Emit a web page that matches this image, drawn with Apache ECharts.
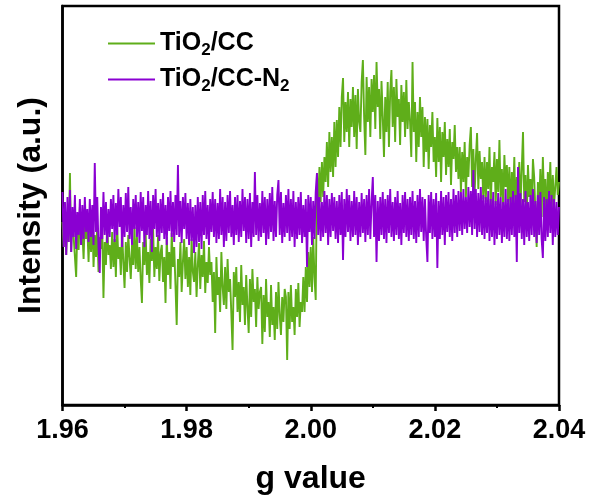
<!DOCTYPE html>
<html>
<head>
<meta charset="utf-8">
<script src="https://cdn.jsdelivr.net/npm/echarts@6/dist/echarts.min.js"></script>
<style>
  html, body { margin: 0; padding: 0; background: #fff; }
  #chart { width: 592px; height: 504px; }
</style>
</head>
<body>
<div id="chart"></div>
<script>
// EPR spectra sampled on a uniform g grid
const gStart = 1.96;
const gStep = 0.0002;
const xTickLabels = ['1.96', '1.98', '2.00', '2.02', '2.04'];
const seriesNames = ['TiO2/CC', 'TiO2/CC-N2'];

// TiO2/CC intensity (a.u.)
const intensityCC = [
  -5, -30, 8, -38, -2, -25, 44, -35, 5, -20, -40, -60, -8, -33, 10, -28, -15, -42, 0, -22,
  -10, -45, -5, -35, 2, -50, -18, -40, -8, -55, -20, -32, -12, -81, -25, -48, -6, -38, -28, -52,
  -15, -50, -22, -60, -8, -42, -30, -58, -12, -45, -71, -25, -55, -18, -40, -62, -28, -48, -10, -52,
  -20, -55, -30, -62, -86, -25, -48, -15, -58, -35, -66, -22, -44, -12, -60, -30, -52, -18, -64, -36,
  -28, -65, -40, -86, -20, -58, -35, -72, -16, -50, -30, -68, -108, -42, -60, -25, -75, -45, -22, -62,
  -30, -70, -40, -78, -22, -55, -65, -35, -80, -48, -26, -72, -38, -60, -24, -76, -45, -66, -30, -58,
  -45, -85, -55, -116, -40, -78, -60, -95, -35, -70, -88, -50, -92, -42, -75, -62, -96, -133, -55, -80,
  -50, -95, -65, -105, -48, -88, -70, -108, -58, -90, -116, -62, -100, -52, -85, -72, -110, -60, -92, -75,
  -70, -127, -78, -115, -62, -100, -85, -120, -68, -108, -90, -123, -75, -112, -65, -98, -118, -80, -105, -72,
  -80, -143, -75, -112, -68, -105, -90, -118, -72, -100, -66, -110, -85, -95, -60, -95, -50, -85, -35, -70,
  -30, -75, -20, -60, -83, 44, 10, 50, 15, 55, 20, 60, 35, 75, 30, 85, 45, 80, 40, 95,
  50, 97, 60, 110, 70, 120, 139, 75, 115, 85, 125, 70, 118, 90, 130, 80, 122, 68, 128, 95,
  85, 135, 157, 100, 62, 140, 95, 130, 80, 138, 105, 142, 88, 155, 110, 128, 78, 136, 100, 60,
  120, 85, 135, 70, 125, 147, 90, 130, 75, 138, 100, 118, 72, 132, 95, 125, 80, 137, 88, 115,
  95, 60, 155, 85, 115, 55, 105, 70, 120, 80, 110, 50, 100, 65, 98, 48, 92, 70, 105, 55,
  80, 40, 99, 55, 90, 35, 85, 60, 95, 42, 78, 50, 88, 32, 75, 58, 92, 45, 70, 38,
  70, 25, 65, 35, 75, 20, 60, 40, 72, 90, 30, 68, 22, 58, 84, 28, 66, 38, 55, 18,
  60, 15, 55, 28, 70, 10, 50, 35, 65, 12, 58, 25, 77, 20, 48, 8, 62, 30, 52, 15,
  50, 5, 45, 18, 60, 0, 40, 22, 55, 10, 48, 85, 15, 42, -3, 52, 20, 38, 8, 58,
  40, 5, -30, 35, 10, 48, 0, 60, 15, 38, -8, 45, 20, 55, 2, 42, 12, 30, 50, 22,
  35
];

// TiO2/CC-N2 intensity (a.u.)
const intensityCCN2 = [
  25, -30, 15, -38, 20, -25, 27, -35, 10, -20, 22, -32, 5, -18, 18, -28, 12, -22, 20, -15,
  8, -25, 18, -20, 12, -28, 54, -15, 20, -30, -56, 10, -22, 25, -18, 15, -26, 8, -20, 18,
  -12, 22, -25, 14, -18, 28, -10, 20, -30, 12, -20, 24, -15, 30, -22, 10, -28, 18, -12, 22,
  -20, 15, -26, 25, -14, 20, -30, 12, -18, 26, -22, 16, -35, 22, -12, 28, -20, 14, -24, 18,
  -16, 24, -22, 12, -28, 20, -14, 26, -20, 15, -25, 22, -18, 52, -20, 16, -26, 20, -12, 24,
  -22, 14, -28, 18, -24, 10, -36, 12, -30, 20, -25, 15, -32, 22, -18, 26, -22, 12, -28, 18,
  -15, 25, -20, 18, -26, 14, -22, 28, -18, 20, -30, 15, -24, 22, -16, 26, -20, 12, -28, 20,
  -18, 22, -25, 16, -20, 28, -14, 20, -26, 18, -22, 24, -30, 15, -20, 45, -18, 22, -24, 14,
  -20, 26, -16, 20, -28, 18, -22, 24, -15, 30, -24, 16, -20, 22, 37, -18, 25, -26, 14, -20,
  22, -16, 28, -24, 18, -20, 26, -30, 15, -22, 20, -18, 25, -26, 12, -20, 18, -50, 22, -15,
  20, -28, 16, -22, 25, 44, -18, 20, -24, 15, -20, 26, -16, 22, -28, 18, -20, 24, -14, 20,
  -22, 16, -26, 22, -18, 25, -43, 18, -20, 28, -15, 22, -24, 16, -20, 26, -18, 20, -28, 15,
  -20, 24, -16, 18, -25, 22, -18, 28, -22, 15, 40, -20, 22, -45, 16, -24, 20, -18, 25, -22,
  18, -26, 22, -16, 28, -20, 15, -24, 20, -18, 26, -22, 14, -28, 22, -16, 25, -20, 18, -24,
  20, -18, 26, -22, 16, -26, 22, -20, 28, -15, 20, -24, 18, -20, -45, 22, -16, 25, -22, 18,
  -20, 24, -51, 16, -22, 26, -18, 20, -28, 22, -15, 25, -20, 18, -24, 28, -16, 22, -20, 26,
  -14, 25, -18, 28, -12, 20, -16, 30, -10, 26, -18, 47, -12, 28, -20, 24, -15, 30, -18, 22,
  -22, 20, -16, 26, -24, 18, -20, 25, -28, 16, -22, 24, -18, 20, -26, 15, -20, 28, -22, 18,
  -24, 20, -18, 26, -20, 22, -45, 50, -16, 24, -22, 18, -28, 26, -20, 15, -24, 22, -18, 28,
  -20, 16, -26, 22, -18, 25, -22, -41, 20, -24, 18, -20, 26, -16, 22, -28, 18, -20, 15, -18,
  10
];

const FONT = '"Liberation Sans", Arial, sans-serif';

function toPairs(values) {
  return values.map((v, i) => [+(gStart + i * gStep).toFixed(5), v]);
}

// Subscript every digit in a sample name, e.g. TiO2 -> TiO{s|2}
function richName(name) {
  return '{b|' + name.replace(/(\d)/g, '}{s|$1}{b|') + '}';
}

const chart = echarts.init(document.getElementById('chart'), null, { renderer: 'canvas' });

chart.setOption({
  animation: false,
  backgroundColor: '#fff',
  grid: {
    left: 62.5, right: 33, top: 6, bottom: 99,
    show: true, borderColor: '#000', borderWidth: 2.5, backgroundColor: 'transparent'
  },
  legend: {
    orient: 'vertical',
    left: 103, top: 26,
    itemWidth: 47, itemHeight: 2, itemGap: 8,
    icon: 'rect',
    data: seriesNames,
    formatter: richName,
    textStyle: {
      rich: {
        b: { fontFamily: FONT, fontSize: 25, fontWeight: 'bold', color: '#000' },
        s: { fontFamily: FONT, fontSize: 17, fontWeight: 'bold', color: '#000', padding: [14, 0, 0, 0] }
      }
    }
  },
  xAxis: {
    type: 'value',
    min: 1.96, max: 2.04, interval: 0.02,
    name: 'g value',
    nameLocation: 'middle',
    nameGap: 58,
    nameTextStyle: { fontFamily: FONT, fontSize: 32, fontWeight: 'bold', color: '#000' },
    axisLine: { show: true, onZero: false, lineStyle: { color: '#000', width: 2.5 } },
    axisTick: { show: true, inside: false, length: 6, lineStyle: { color: '#000', width: 2.5 } },
    minorTick: { show: true, splitNumber: 2, length: 3, lineStyle: { color: '#000', width: 2 } },
    splitLine: { show: false },
    minorSplitLine: { show: false },
    axisLabel: {
      margin: 12,
      fontFamily: FONT, fontSize: 27, fontWeight: 'bold', color: '#000',
      formatter: v => xTickLabels.find(t => Math.abs(+t - v) < 1e-6) || v.toFixed(2)
    }
  },
  yAxis: {
    type: 'value',
    min: -188, max: 211,
    name: 'Intensity (a.u.)',
    nameLocation: 'middle',
    nameGap: 15,
    nameTextStyle: { fontFamily: FONT, fontSize: 32, fontWeight: 'bold', color: '#000' },
    axisLine: { show: true, lineStyle: { color: '#000', width: 2.5 } },
    axisTick: { show: false },
    axisLabel: { show: false },
    splitLine: { show: false }
  },
  series: [
    {
      name: seriesNames[0],
      type: 'line',
      data: toPairs(intensityCC),
      showSymbol: false,
      symbol: 'none',
      sampling: null,
      lineStyle: { color: '#5fae1a', width: 1.9 },
      itemStyle: { color: '#5fae1a' },
      emphasis: { disabled: true }
    },
    {
      name: seriesNames[1],
      type: 'line',
      data: toPairs(intensityCCN2),
      showSymbol: false,
      symbol: 'none',
      sampling: null,
      lineStyle: { color: '#8a00d2', width: 1.9 },
      itemStyle: { color: '#8a00d2' },
      emphasis: { disabled: true }
    }
  ]
});
</script>
</body>
</html>
